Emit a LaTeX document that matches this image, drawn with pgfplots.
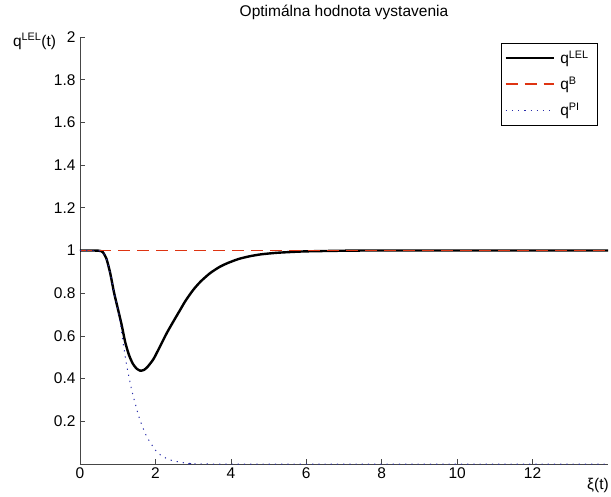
\documentclass[border=0pt]{standalone}
\usepackage{fontspec}
\setmainfont{Liberation Sans}
\usepackage{pgfplots}
\pgfplotsset{compat=1.18}
\definecolor{qred}{RGB}{222,52,18}
\definecolor{qblue}{RGB}{40,44,170}
\definecolor{axgray}{RGB}{70,70,70}
\begin{document}
\begin{tikzpicture}[font=\fontsize{15.5}{18}\selectfont]
\useasboundingbox (0,0) rectangle (611pt,496pt);
\begin{axis}[
  at={(80pt,32pt)}, anchor=south west,
  scale only axis, width=528pt, height=427pt,
  xmin=0, xmax=14, ymin=0, ymax=2,
  axis x line=bottom, axis y line=left,
  axis line style={-, axgray, line width=0.6pt},
  tick style={axgray, line width=0.6pt},
  tick align=inside, major tick length=5pt,
  xtick={0,2,...,12}, ytick={0.2,0.4,...,2.01},
  /pgf/number format/assume math mode=true,
  yticklabel style={/pgf/number format/fixed, xshift=-1pt},
  title={Optimálna hodnota vystavenia},
  title style={at={(axis description cs:0.5,1.058)}, anchor=center, yshift=0pt},
  every axis title shift=0pt,
  xlabel={ξ(t)},
  xlabel style={at={(axis description cs:0.981,-0.05)}, anchor=center},
  ylabel={q\textsuperscript{LEL}(t)},
  ylabel style={rotate=-90, at={(axis description cs:-0.086,0.99)}, anchor=center},
  legend style={at={(axis description cs:0.979,0.986)}, anchor=north east,
    draw=black, inner sep=3pt, row sep=3pt,
    nodes={inner ysep=4.5pt, inner xsep=5pt},
    font=\fontsize{15.5}{18}\selectfont},
  legend cell align=left,
  legend image code/.code={\draw[#1] (0cm,0cm) -- (1.7cm,0cm);},
]
\addplot[black, line width=2.4pt, smooth, tension=0.4] coordinates {
 (0,1) (0.3,1) (0.5,0.999) (0.6,0.993) (0.7,0.962) (0.8,0.895) (0.9,0.805)
 (1.0,0.73) (1.1,0.655) (1.2,0.57) (1.3,0.51) (1.4,0.47) (1.5,0.447)
 (1.6,0.437) (1.7,0.441) (1.8,0.457) (1.95,0.492) (2.1,0.543) (2.3,0.613)
 (2.5,0.675) (2.65,0.72) (2.8,0.765) (3.0,0.815) (3.2,0.855) (3.45,0.894)
 (3.7,0.923) (3.9,0.94) (4.2,0.96) (4.5,0.973) (4.8,0.982) (5.2,0.989)
 (5.6,0.993) (6,0.996) (7,0.999) (8,1) (14,1)};
\addlegendentry{q\textsuperscript{LEL}}
\addplot[draw=qred, line width=1.7pt, dash pattern=on 12pt off 7pt] coordinates {(0,1) (14,1)};
\addlegendentry{q\textsuperscript{B}}
\addplot[qblue, line width=1pt, dash pattern=on 1.2pt off 5pt, smooth, tension=0.4] coordinates {
 (0,1) (0.3,1) (0.5,0.999) (0.6,0.993) (0.7,0.962) (0.8,0.895) (0.9,0.805)
 (1.0,0.73) (1.06,0.67) (1.15,0.56) (1.24,0.46) (1.37,0.347) (1.5,0.26)
 (1.59,0.206) (1.77,0.128) (2.03,0.058) (2.2,0.035) (2.39,0.019) (2.7,0.007)
 (3,0.002) (3.5,0) (14,0)};
\addlegendentry{q\textsuperscript{PI}}
\end{axis}
\end{tikzpicture}
\end{document}
